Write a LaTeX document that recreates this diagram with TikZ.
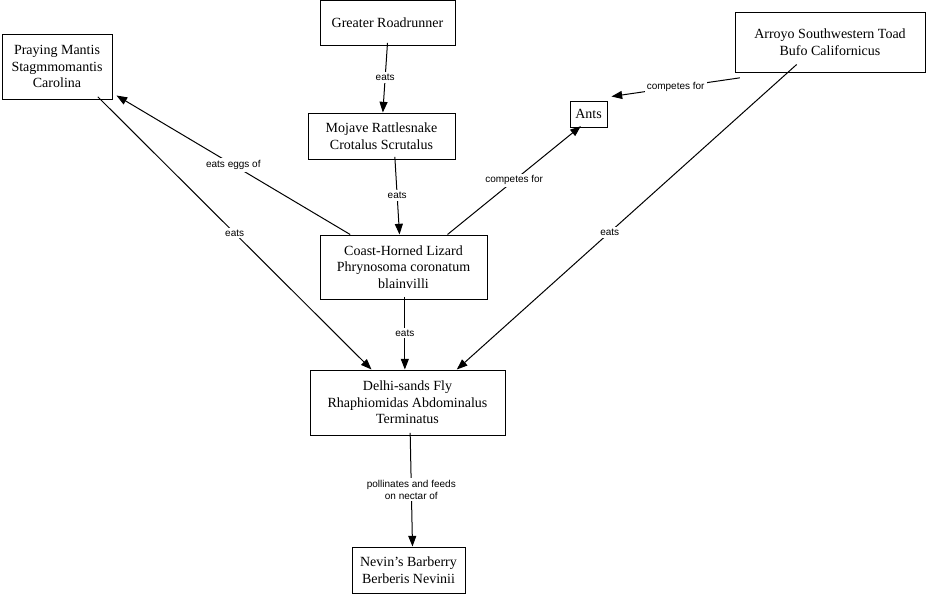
\documentclass[tikz,border=0pt]{standalone}
\usepackage{fontspec}
\setmainfont{Liberation Serif}
\newfontfamily\lblfont{Liberation Sans}
\usetikzlibrary{arrows.meta}
\tikzset{every picture/.style={line width=0.75pt}}
\tikzset{
	species/.style={draw, line width=0.75pt, align=center, inner sep=3pt, font=\fontsize{10.5}{12.5}\selectfont},
	rel/.style={-{Triangle[length=8pt,width=6pt]}},
	rellabel/.style={fill=white, align=center, inner sep=1.5pt, font=\lblfont\fontsize{7.5}{9}\selectfont}}

\begin{document}
\begin{tikzpicture}[x=0.75pt,y=0.75pt,yscale=-1,xscale=1]
	\useasboundingbox (0,0) rectangle (926,596);

	% Species boxes
	\node [species, minimum width=135*0.75pt, minimum height=45*0.75pt] (roadrunner) at (387.5,22.5) {Greater Roadrunner};
	\node [species, minimum width=110*0.75pt, minimum height=65*0.75pt] (mantis) at (57,66.5) {Praying Mantis\\Stagmmomantis\\Carolina};
	\node [species, minimum width=190*0.75pt, minimum height=60*0.75pt] (toad) at (830,42) {Arroyo Southwestern Toad\\Bufo Californicus};
	\node [species, minimum width=37*0.75pt, minimum height=26*0.75pt] (ants) at (588.5,114) {Ants};
	\node [species, minimum width=147*0.75pt, minimum height=46*0.75pt] (snake) at (381.5,136) {Mojave Rattlesnake\\Crotalus Scrutalus};
	\node [species, minimum width=167*0.75pt, minimum height=64*0.75pt] (lizard) at (403.5,267) {Coast-Horned Lizard\\Phrynosoma coronatum\\blainvilli};
	\node [species, minimum width=195*0.75pt, minimum height=65*0.75pt] (fly) at (407.5,402.5) {Delhi-sands Fly\\Rhaphiomidas Abdominalus\\Terminatus};
	\node [species, minimum width=113*0.75pt, minimum height=46*0.75pt] (barberry) at (408.5,570) {Nevin's Barberry\\Berberis Nevinii};

	% Relations
	\draw [rel] ([yshift=-2pt]roadrunner.south) -- node [rellabel] {eats} ([xshift=1pt]snake.north);
	\draw [rel] ([xshift=10pt,yshift=-2pt]snake.south) -- node [rellabel] {eats} ([xshift=-3pt]lizard.north);
	\draw [rel] ([xshift=-40pt]lizard.north) -- node [rellabel] {eats eggs of} ([xshift=3pt,yshift=-3pt]mantis.south east);
	\draw [rel] ([xshift=33pt]lizard.north) -- node [rellabel] {competes for} ([xshift=-20pt,yshift=-1pt]ants.south east);
	\draw [rel] ([xshift=4pt,yshift=4pt]toad.south west) -- node [rellabel] {competes for} ([xshift=3pt,yshift=-3pt]ants.north east);
	\draw [rel] ([xshift=-11pt,yshift=-2pt]mantis.south east) -- node [rellabel] {eats} ([xshift=-27pt]fly.north);
	\draw [rel] ([xshift=-25pt,yshift=-6pt]toad.south) -- node [rellabel, pos=0.55] {eats} ([xshift=37pt]fly.north);
	\draw [rel] ([xshift=1pt,yshift=-2pt]lizard.south) -- node [rellabel] {eats} ([xshift=-2pt]fly.north);
	\draw [rel] ([xshift=2pt,yshift=-2pt]fly.south) -- node [rellabel] {pollinates and feeds\\on nectar of} ([xshift=3pt]barberry.north);

\end{tikzpicture}
\end{document}
